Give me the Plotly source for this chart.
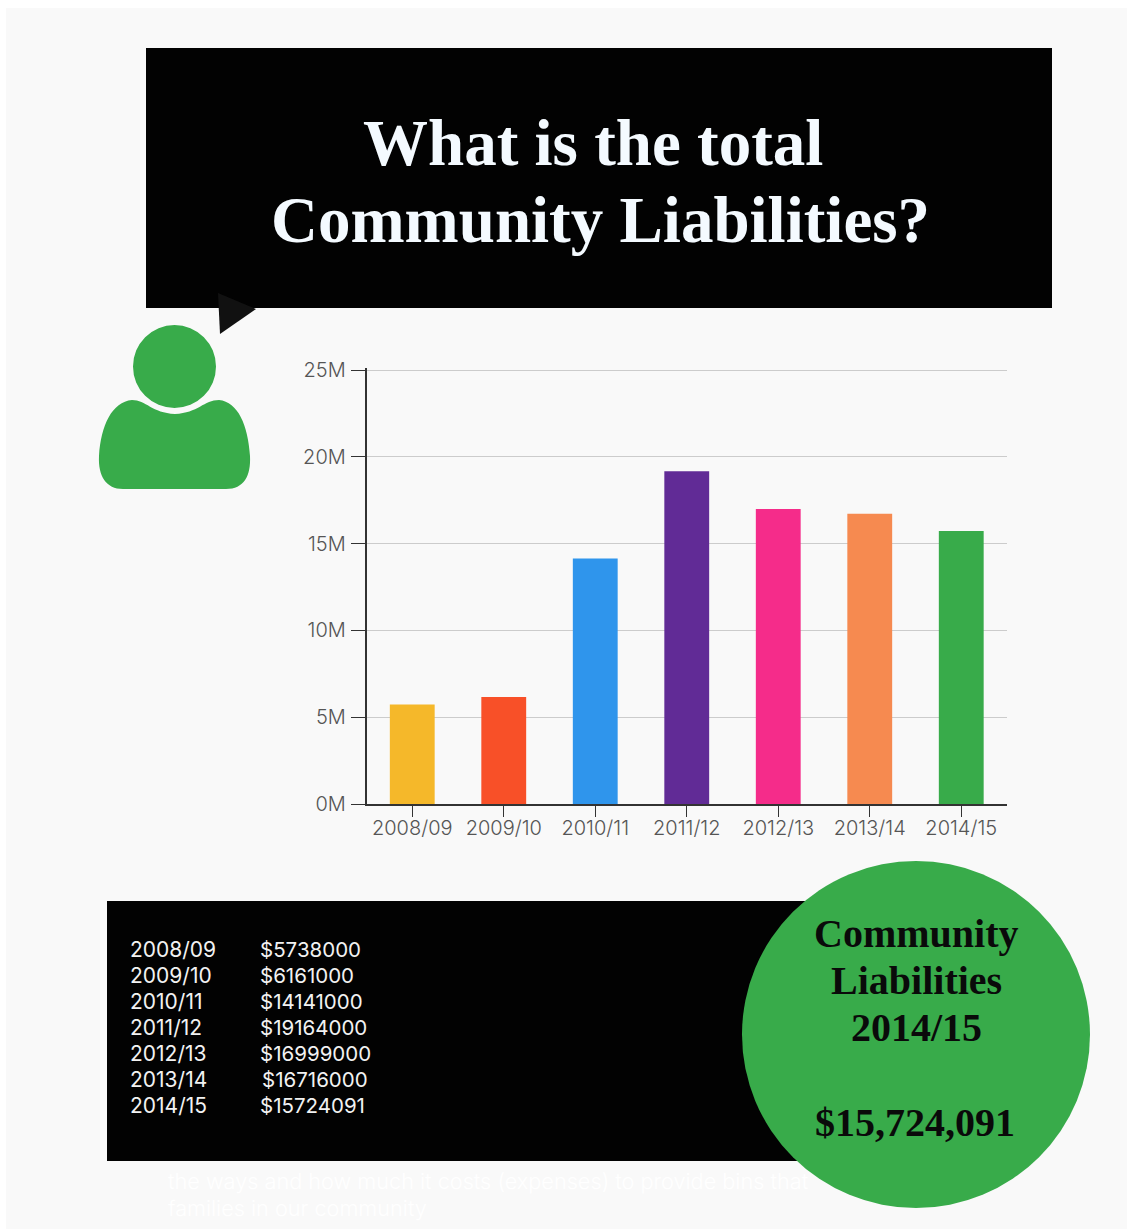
import plotly.graph_objects as go

W, H = 1127, 1229

# Community liabilities per financial year
years = ["2008/09", "2009/10", "2010/11", "2011/12", "2012/13", "2013/14", "2014/15"]
liabilities = [5738000, 6161000, 14141000, 19164000, 16999000, 16716000, 15724091]
bar_colors = ["#F5B82A", "#F85028", "#2F95EC", "#612B96", "#F52C8A", "#F68A50", "#38AB4A"]
y_ticks = [0, 5e6, 10e6, 15e6, 20e6, 25e6]
y_tick_labels = ["0M", "5M", "10M", "15M", "20M", "25M"]
table_amounts = ["$5738000", "$6161000", "$14141000", "$19164000", "$16999000", "$16716000", "$15724091"]

GREEN = "#38AB4A"
BODY_FONT = "Inter"
SERIF = "Liberation Serif"

# The range runs a little past 25M so the top gridline is still drawn
Y_MAX = 25.1e6
PLOT_BOTTOM = 804
PLOT_TOP = PLOT_BOTTOM - (PLOT_BOTTOM - 370) * Y_MAX / 25e6

fig = go.Figure()
fig.add_bar(x=years, y=liabilities, marker=dict(color=bar_colors, line=dict(width=0)),
            width=0.49, showlegend=False, hoverinfo="x+y")

# Hidden axes spanning the whole page, used to place the decorations in pixels
fig.add_scatter(x=[0], y=[0], xaxis="x2", yaxis="y2", mode="markers",
                marker=dict(opacity=0), showlegend=False, hoverinfo="skip")


def rect(x0, y0, x1, y1, color, layer="below"):
    return dict(type="rect", xref="x2", yref="y2", x0=x0, y0=y0, x1=x1, y1=y1,
                fillcolor=color, line=dict(width=0), layer=layer)


shapes = [
    # Page panel sits under every subplot
    dict(type="rect", xref="paper", yref="paper", x0=6 / W, x1=1, y0=0, y1=1 - 8 / H,
         fillcolor="#F9F9F9", line=dict(width=0), layer="below"),
    # Title banner and its speech-bubble tail
    rect(146, 48, 1052, 308, "#020202"),
    dict(type="path", xref="x2", yref="y2", path="M 218 293 L 256 309 L 220 334 Z",
         fillcolor="#111111", line=dict(width=0), layer="below"),
    # Person icon: head and shoulders
    dict(type="circle", xref="x2", yref="y2", x0=133, y0=325, x1=216, y1=408,
         fillcolor=GREEN, line=dict(width=0), layer="below"),
    dict(type="path", xref="x2", yref="y2",
         path="M 132 400 C 146 400 152 413 175 414 C 198 413 204 400 219 400 "
              "C 238 402 248 425 250 456 C 251 476 244 489 226 489 "
              "L 123 489 C 106 489 98 476 99 456 C 101 425 112 402 132 400 Z",
         fillcolor=GREEN, line=dict(width=0), layer="below"),
    # Lower table panel and the headline circle
    rect(107, 901, 900, 1161, "#020202"),
    dict(type="circle", xref="x2", yref="y2", x0=742, y0=861, x1=1090, y1=1208,
         fillcolor=GREEN, line=dict(width=0), layer="below"),
]


def label(x, y, text, size, color, family=BODY_FONT, anchor="left", bold=False, weight=None):
    font = dict(family=family, size=size, color=color)
    if weight:
        font["weight"] = weight
    return dict(xref="x2", yref="y2", x=x, y=y, text=f"<b>{text}</b>" if bold else text,
                showarrow=False, xanchor=anchor, yanchor="middle", font=font)


annotations = [
    label(593, 143, "What is the total", 65, "#F4FAFF", SERIF, "center", True),
    label(600, 220, "Community Liabilities?", 65, "#F4FAFF", SERIF, "center", True),
    label(916, 933, "Community", 40, "#0A0A0A", SERIF, "center", True),
    label(916, 980, "Liabilities", 40, "#0A0A0A", SERIF, "center", True),
    label(916, 1027, "2014/15", 40, "#0A0A0A", SERIF, "center", True),
    label(915, 1122, "$15,724,091", 40, "#0A0A0A", SERIF, "center", True),
    # Faint caption running below the panel
    label(166, 1181, "the ways and how much it costs (expenses) to provide bins that", 21.7, "#FFFFFF", weight=300),
    label(166, 1208, "families in our community", 21.7, "#FFFFFF", weight=300),
]

for i, (year, amount) in enumerate(zip(years, table_amounts)):
    row_y = 949 + 26 * i
    annotations.append(label(128, row_y, year, 21, "#F2F2F2"))
    annotations.append(label(260 if year == "2013/14" else 258, row_y, amount, 20.5, "#F2F2F2"))

tick_font = dict(family=BODY_FONT, size=20, color="#555555", weight=300)

fig.update_layout(
    width=W, height=H, margin=dict(l=0, r=0, t=0, b=0, autoexpand=False),
    paper_bgcolor="#FFFFFF", plot_bgcolor="rgba(0,0,0,0)",
    bargap=0.51, shapes=shapes, annotations=annotations,
    font=dict(family=BODY_FONT),
    xaxis=dict(domain=[366.5 / W, 1007 / W], type="category", anchor="y", automargin=False,
               showline=True, linecolor="#333333", linewidth=1.5,
               ticks="outside", ticklen=11, tickcolor="#333333", tickwidth=1,
               ticklabelstandoff=-6, tickfont=tick_font,
               showgrid=False, zeroline=False),
    yaxis=dict(domain=[1 - PLOT_BOTTOM / H, 1 - PLOT_TOP / H], range=[0, Y_MAX], anchor="x", automargin=False,
               tickvals=y_ticks, ticktext=y_tick_labels,
               showline=True, linecolor="#333333", linewidth=1.5,
               ticks="outside", ticklen=14, tickcolor="#333333", tickwidth=1,
               ticklabelstandoff=1, tickfont=tick_font,
               showgrid=True, gridcolor="#CCCCCC", gridwidth=1, zeroline=False),
    xaxis2=dict(domain=[0, 1], range=[0, W], visible=False, anchor="y2", fixedrange=True, automargin=False),
    yaxis2=dict(domain=[0, 1], range=[H, 0], visible=False, anchor="x2", fixedrange=True, automargin=False),
)

fig.write_html("out.html")
